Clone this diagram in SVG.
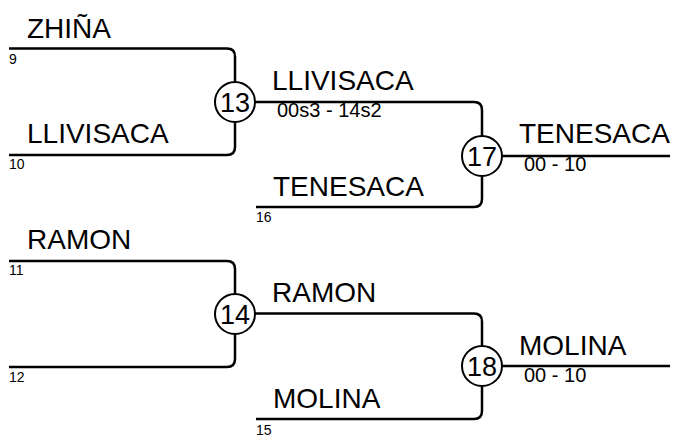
<svg xmlns="http://www.w3.org/2000/svg" width="681" height="442" viewBox="0 0 681 442">
<style>
.ln{fill:none;stroke:#000;stroke-width:2.5}
.nd{fill:#fff;stroke:#000;stroke-width:2}
.name{font-family:"Liberation Sans",Arial,sans-serif;font-size:28px;fill:#000}
.seed{font-family:"Liberation Sans",Arial,sans-serif;font-size:14px;fill:#000}
.score{font-family:"Liberation Sans",Arial,sans-serif;font-size:20px;fill:#000}
.num{font-family:"Liberation Sans",Arial,sans-serif;font-size:27px;fill:#000;text-anchor:middle}
</style>
<rect width="681" height="442" fill="#fff"/>
<g id="connectors">
<path class="ln" d="M9,48.5 H227 Q235,48.5 235,56.5 V147 Q235,155 227,155 H9"/>
<path class="ln" d="M235,102 H474 Q482,102 482,110 V199 Q482,207 474,207 H256"/>
<path class="ln" d="M482,156 H670"/>
<path class="ln" d="M9,261 H227 Q235,261 235,269 V359 Q235,367 227,367 H9"/>
<path class="ln" d="M235,313.5 H474 Q482,313.5 482,321.5 V411 Q482,419 474,419 H256"/>
<path class="ln" d="M482,366 H670"/>
</g>
<g id="p9"><text class="name" x="27" y="38">ZHIÑA</text><text class="seed" x="9" y="64">9</text></g>
<g id="p10"><text class="name" x="27" y="143">LLIVISACA</text><text class="seed" x="9" y="169">10</text></g>
<g id="p11"><text class="name" x="27" y="249">RAMON</text><text class="seed" x="9" y="275">11</text></g>
<g id="p12"><text class="seed" x="9" y="382">12</text></g>
<g id="p16"><text class="name" x="273" y="196">TENESACA</text><text class="seed" x="256" y="222">16</text></g>
<g id="p15"><text class="name" x="273" y="408">MOLINA</text><text class="seed" x="256" y="435">15</text></g>
<g id="n13"><circle class="nd" cx="235" cy="102" r="20"/><text class="num" x="235" y="112">13</text>
<text class="name" x="272" y="90">LLIVISACA</text><text class="score" x="277" y="117">00s3 - 14s2</text></g>
<g id="n14"><circle class="nd" cx="235" cy="314" r="20"/><text class="num" x="235" y="324">14</text>
<text class="name" x="272" y="302">RAMON</text></g>
<g id="n17"><circle class="nd" cx="482" cy="156" r="20"/><text class="num" x="482" y="166">17</text>
<text class="name" x="519" y="143">TENESACA</text><text class="score" x="524" y="171">00 - 10</text></g>
<g id="n18"><circle class="nd" cx="482" cy="366" r="20"/><text class="num" x="482" y="376">18</text>
<text class="name" x="519" y="355">MOLINA</text><text class="score" x="524" y="382">00 - 10</text></g>
</svg>
